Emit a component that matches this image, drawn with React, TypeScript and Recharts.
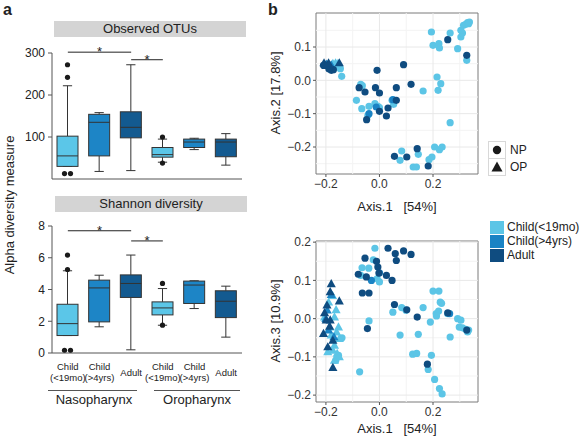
import React from "react";
import {
  Bar,
  ComposedChart,
  ReferenceArea,
  ReferenceLine,
  Scatter,
  ScatterChart,
  XAxis,
  YAxis,
} from "recharts";

const FONT = '"Liberation Sans", Arial, sans-serif';
const LIGHT = "#5bc6e8";
const MID = "#1d85c6";
const DARK = "#135a90";
const PT_LIGHT = "#5cc5e6";
const PT_MID = "#1a83c4";
const PT_DARK = "#0f4c80";
const INK = "#333";

// alpha diversity groups
const GROUP_KEYS = ["npChild19", "npChild4", "npAdult", "opChild19", "opChild4", "opAdult"];
const GROUP_FILLS = [LIGHT, MID, DARK, LIGHT, MID, DARK];
const TICK_MAIN = ["Child", "Child", "Adult", "Child", "Child", "Adult"];
const TICK_SUB = ["(<19mo)", "(>4yrs)", "", "(<19mo)", "(>4yrs)", ""];

const OTU_LOW = [30, 18, 20, 40, 70, 33];
const OTU_Q1 = [30, 55, 98, 52, 75, 53];
const OTU_MED = [55, 135, 123, 58, 88, 88];
const OTU_Q3 = [102, 154, 160, 75, 95, 95];
const OTU_HIGH = [222, 158, 272, 95, 97, 108];
const OTU_OUT = [[272, 242, 13, 13], [], [], [100, 38], [], []];

const SH_LOW = [1.1, 1.65, 0.2, 1.75, 2.8, 1.0];
const SH_Q1 = [1.1, 1.96, 3.5, 2.4, 3.12, 2.23];
const SH_MED = [1.85, 4.1, 4.38, 2.84, 4.28, 3.26];
const SH_Q3 = [3.07, 4.59, 4.92, 3.22, 4.53, 3.92];
const SH_HIGH = [5.18, 4.9, 6.17, 4.06, 4.55, 4.21];
const SH_OUT = [[6.17, 5.26, 0.17, 0.17], [], [], [4.38, 1.75], [], []];

// significance brackets: [from, to, value]
const OTU_SIG: [string, string, number][] = [
  ["npChild19", "npAdult", 302],
  ["npAdult", "opChild19", 284],
];
const SH_SIG: [string, string, number][] = [
  ["npChild19", "npAdult", 7.7],
  ["npAdult", "opChild19", 7.06],
];

// PCoA axis 1 vs axis 2
const P2_NP_LIGHT: [number, number][] = [
  [-0.156, 0.04], [-0.146, 0.035], [-0.165, 0.04], [-0.141, 0.012],
  [-0.086, -0.06], [-0.07, -0.012], [-0.064, -0.016], [-0.066, -0.085], [-0.039, -0.078],
  [-0.043, -0.105], [-0.017, -0.07], [-0.006, -0.078], [0.0, -0.082], [0.053, -0.072],
  [0.047, -0.06], [0.163, -0.032], [0.215, 0.01], [0.229, -0.01], [0.219, -0.03],
  [0.264, -0.127], [0.194, 0.145], [0.2, 0.105], [0.222, 0.11], [0.224, 0.097],
  [0.264, 0.142], [0.292, 0.095], [0.304, 0.13], [0.31, 0.142], [0.304, 0.15],
  [0.314, 0.165], [0.322, 0.168], [0.329, 0.173], [0.333, 0.17], [0.336, 0.175],
  [0.326, 0.06], [0.083, -0.212], [0.077, -0.24], [0.145, -0.222], [0.126, -0.26],
  [0.138, -0.26], [0.185, -0.238], [0.196, -0.23], [0.206, -0.2], [0.224, -0.208],
  [0.234, -0.2],
];
const P2_NP_MID: [number, number][] = [[-0.039, -0.1], [0.05, -0.058], [-0.012, -0.08]];
const P2_NP_DARK: [number, number][] = [
  [-0.209, 0.045], [-0.18, 0.03], [-0.172, 0.032], [-0.189, 0.035], [0.09, 0.047],
  [-0.009, 0.03], [-0.076, -0.022], [-0.054, -0.035], [-0.015, -0.022], [0.0, -0.038],
  [0.0, -0.093], [-0.048, -0.118], [0.032, -0.083], [0.026, -0.107], [0.063, -0.022],
  [0.063, -0.06], [0.118, -0.012], [0.056, -0.228], [0.102, -0.23], [0.141, -0.205],
  [0.182, -0.257], [0.255, 0.122], [0.326, 0.075],
];
const P2_OP_LIGHT: [number, number][] = [[-0.174, 0.05], [-0.164, 0.052], [-0.155, 0.05], [-0.16, 0.045]];
const P2_OP_MID: [number, number][] = [[-0.198, 0.048], [-0.18, 0.046]];
const P2_OP_DARK: [number, number][] = [[-0.207, 0.052], [-0.19, 0.052], [-0.15, 0.052], [-0.2, 0.044]];

// PCoA axis 1 vs axis 3
const P3_NP_LIGHT: [number, number][] = [
  [-0.14, -0.05], [-0.153, -0.096], [-0.163, -0.109], [-0.017, 0.184], [-0.023, 0.154],
  [-0.065, 0.133], [-0.04, 0.132], [-0.07, 0.113], [-0.009, 0.104], [0.0, 0.096],
  [-0.074, -0.139], [-0.039, -0.006], [0.077, -0.043], [0.083, 0.029], [0.099, 0.022],
  [0.05, 0.017], [0.145, -0.041], [0.163, 0.029], [0.124, -0.093], [0.139, -0.091],
  [0.194, -0.096], [0.19, -0.009], [0.182, -0.133], [0.212, 0.013], [0.2, 0.072],
  [0.222, 0.072], [0.227, 0.043], [0.232, 0.04], [0.221, 0.02], [0.213, 0.007],
  [0.255, 0.013], [0.264, -0.048], [0.292, 0.0], [0.304, -0.004], [0.298, -0.022],
  [0.31, -0.024], [0.322, -0.028], [0.329, -0.035], [0.333, -0.03], [0.206, -0.159],
  [0.224, -0.183], [0.234, -0.197],
];
const P3_NP_MID: [number, number][] = [[0.0, 0.12], [-0.03, 0.1], [0.262, 0.013]];
const P3_NP_DARK: [number, number][] = [
  [0.032, 0.184], [0.09, 0.177], [0.118, 0.168], [0.059, 0.17], [0.063, 0.152],
  [-0.054, 0.158], [-0.011, 0.15], [-0.006, 0.135], [-0.002, 0.119], [-0.079, 0.116],
  [-0.049, 0.109], [-0.064, 0.067], [-0.039, 0.067], [0.026, 0.113], [0.047, 0.1],
  [-0.045, -0.026], [0.056, 0.037], [0.102, 0.023], [0.141, 0.004], [0.179, -0.119],
  [0.255, 0.015], [0.326, -0.03],
];
const P3_OP_LIGHT: [number, number][] = [
  [-0.19, 0.043], [-0.162, 0.023], [-0.205, 0.004], [-0.168, 0.004], [-0.153, -0.022],
  [-0.186, -0.022], [-0.18, -0.043], [-0.15, -0.052], [-0.168, -0.07], [-0.158, -0.091],
  [-0.15, -0.1], [-0.168, -0.109], [-0.193, -0.087], [-0.174, -0.083], [-0.175, 0.06],
  [-0.16, -0.035],
];
const P3_OP_MID: [number, number][] = [[-0.18, 0.063], [-0.195, 0.022], [-0.19, -0.03], [-0.17, -0.048], [-0.2, 0.0]];
const P3_OP_DARK: [number, number][] = [
  [-0.18, 0.091], [-0.184, 0.07], [-0.196, 0.035], [-0.205, 0.015], [-0.15, 0.046],
  [-0.199, -0.004], [-0.209, -0.039], [-0.184, -0.004], [-0.193, -0.074], [-0.174, -0.057],
  [-0.174, -0.128], [-0.186, -0.02],
];

const X_DOMAIN: [number, number] = [-0.237, 0.368];
const X_TICKS = [-0.2, 0, 0.2];
const X_MINOR = [-0.1, 0.1, 0.3];
const Y2_DOMAIN: [number, number] = [-0.281, 0.202];
const Y2_TICKS = [-0.2, -0.1, 0, 0.1];
const Y2_MINOR = [-0.25, -0.15, -0.05, 0.05, 0.15];
const Y3_DOMAIN: [number, number] = [-0.218, 0.203];
const Y3_TICKS = [-0.2, -0.1, 0, 0.1, 0.2];
const Y3_MINOR = [-0.15, -0.05, 0.05, 0.15];

function boxRows(low: number[], q1: number[], med: number[], q3: number[], high: number[], out: number[][]) {
  return GROUP_KEYS.map((key, i) => ({
    key,
    box: [q1[i], q3[i]],
    low: low[i],
    q1: q1[i],
    med: med[i],
    q3: q3[i],
    high: high[i],
    out: out[i],
    fill: GROUP_FILLS[i],
  }));
}

const OTU_ROWS = boxRows(OTU_LOW, OTU_Q1, OTU_MED, OTU_Q3, OTU_HIGH, OTU_OUT);
const SH_ROWS = boxRows(SH_LOW, SH_Q1, SH_MED, SH_Q3, SH_HIGH, SH_OUT);

const pts = (a: [number, number][]) => a.map(([x, y]) => ({ x, y }));

// box drawn from the bar's own pixel geometry (bar spans q1..q3)
function BoxShape(props: any) {
  const { x, y, width, height, payload } = props;
  const top = Math.min(y, y + height);
  const h = Math.abs(height);
  const { q1, q3, med, low, high, out, fill } = payload;
  const k = h / (q3 - q1);
  const py = (v: number) => top + (q3 - v) * k;
  const cx = x + width / 2;
  const cap = width * 0.22;
  const seen: Record<string, number> = {};
  return (
    <g>
      <line x1={cx} x2={cx} y1={py(high)} y2={py(q3)} stroke={INK} />
      <line x1={cx} x2={cx} y1={py(q1)} y2={py(low)} stroke={INK} />
      <line x1={cx - cap} x2={cx + cap} y1={py(high)} y2={py(high)} stroke={INK} />
      <line x1={cx - cap} x2={cx + cap} y1={py(low)} y2={py(low)} stroke={INK} />
      <rect x={x} y={top} width={width} height={h} fill={fill} stroke={INK} />
      <line x1={x} x2={x + width} y1={py(med)} y2={py(med)} stroke={INK} />
      {out.map((v: number, i: number) => {
        const n = out.filter((o: number) => o === v).length;
        const j = (seen[v] = (seen[v] ?? -1) + 1);
        const dx = n > 1 ? (j - (n - 1) / 2) * 6 : 0;
        return <circle key={i} cx={cx + dx} cy={py(v)} r={2.6} fill="#1a1a1a" />;
      })}
    </g>
  );
}

function GroupTick(props: any) {
  const { x, y, payload } = props;
  const i = GROUP_KEYS.indexOf(payload.value);
  const sub = TICK_SUB[i];
  return (
    <g fontFamily={FONT} fontSize={9.5} fill="#222" textAnchor="middle">
      {sub ? (
        <>
          <text x={x} y={y + 17}>{TICK_MAIN[i]}</text>
          <text x={x} y={y + 28}>{sub}</text>
        </>
      ) : (
        <text x={x} y={y + 23}>{TICK_MAIN[i]}</text>
      )}
    </g>
  );
}

const star = (props: any) => {
  const vb = props.viewBox;
  return (
    <text x={vb.x + vb.width / 2} y={vb.y + 4} textAnchor="middle" fontSize={13} fontFamily={FONT} fill="#222">
      *
    </text>
  );
};

function BoxPanel({ rows, sig, domain, ticks, top, height, marginTop, xHeight, tickEl }: any) {
  return (
    <div style={{ position: "absolute", left: 0, top }}>
      <ComposedChart width={250} height={height} data={rows} margin={{ top: marginTop, right: 8, bottom: 0, left: 0 }}>
        <XAxis
          dataKey="key"
          height={xHeight}
          tick={tickEl}
          tickLine={false}
          tickSize={0}
          tickMargin={0}
          interval={0}
          axisLine={{ stroke: "#555" }}
        />
        <YAxis
          width={52}
          domain={domain}
          ticks={ticks}
          allowDataOverflow
          tickSize={4}
          tickMargin={3}
          tick={{ fontSize: 12, fill: "#222", fontFamily: FONT }}
          axisLine={{ stroke: "#555" }}
          tickLine={{ stroke: "#555" }}
        />
        <Bar dataKey="box" barSize={21} shape={BoxShape} isAnimationActive={false} />
        {sig.map(([a, b, v]: [string, string, number], i: number) => (
          <ReferenceLine
            key={i}
            segment={[{ x: a, y: v }, { x: b, y: v }]}
            stroke="#222"
            strokeWidth={1}
            ifOverflow="visible"
            label={star}
          />
        ))}
      </ComposedChart>
    </div>
  );
}

const dotShape = (color: string) => (p: any) => <circle cx={p.cx} cy={p.cy} r={3.6} fill={color} />;
const triShape = (color: string) => (p: any) => {
  const s = 4.8;
  return (
    <path
      d={`M${p.cx},${p.cy - s}L${p.cx + s * 0.95},${p.cy + s * 0.7}L${p.cx - s * 0.95},${p.cy + s * 0.7}Z`}
      fill={color}
    />
  );
};

const fmt = (v: number) => v.toFixed(1).replace("-", "\u2212");

function PcoaPanel({ top, yDomain, yTicks, yMinor, series }: any) {
  return (
    <div style={{ position: "absolute", left: 280, top }}>
      <ScatterChart width={200} height={196} margin={{ top: 13, right: 2, bottom: 0, left: 0 }}>
        <XAxis
          type="number"
          dataKey="x"
          domain={X_DOMAIN}
          ticks={X_TICKS}
          allowDataOverflow
          height={22}
          tickSize={3}
          tickMargin={2}
          tickFormatter={fmt}
          axisLine={false}
          tickLine={{ stroke: "#555" }}
          tick={{ fontSize: 12, fill: "#333", fontFamily: FONT }}
        />
        <YAxis
          type="number"
          dataKey="y"
          domain={yDomain}
          ticks={yTicks}
          allowDataOverflow
          width={36}
          tickSize={3}
          tickMargin={2}
          tickFormatter={fmt}
          axisLine={false}
          tickLine={{ stroke: "#555" }}
          tick={{ fontSize: 12, fill: "#333", fontFamily: FONT }}
        />
        {yMinor.map((v: number) => (
          <ReferenceLine key={"ym" + v} y={v} stroke="#f3f3f3" />
        ))}
        {X_MINOR.map((v) => (
          <ReferenceLine key={"xm" + v} x={v} stroke="#f3f3f3" />
        ))}
        {yTicks.map((v: number) => (
          <ReferenceLine key={"y" + v} y={v} stroke="#e8e8e8" />
        ))}
        {X_TICKS.map((v) => (
          <ReferenceLine key={"x" + v} x={v} stroke="#e8e8e8" />
        ))}
        {series.map((s: any, i: number) => (
          <Scatter
            key={i}
            data={pts(s.data)}
            shape={s.tri ? triShape(s.color) : dotShape(s.color)}
            isAnimationActive={false}
          />
        ))}
        <ReferenceArea
          x1={X_DOMAIN[0]}
          x2={X_DOMAIN[1]}
          y1={yDomain[0]}
          y2={yDomain[1]}
          fill="none"
          fillOpacity={0}
          stroke="#7a7a7a"
          ifOverflow="visible"
        />
      </ScatterChart>
    </div>
  );
}

const abs = (left: number, top: number, extra: React.CSSProperties = {}): React.CSSProperties => ({
  position: "absolute",
  left,
  top,
  fontFamily: FONT,
  whiteSpace: "pre",
  color: "#222",
  ...extra,
});

const vlabel = (cx: number, cy: number, size: number): React.CSSProperties => ({
  position: "absolute",
  left: cx,
  top: cy,
  transform: "translate(-50%, -50%) rotate(-90deg)",
  fontFamily: FONT,
  fontSize: size,
  whiteSpace: "pre",
  color: "#222",
});

export default function App() {
  const series2 = [
    { data: P2_NP_LIGHT, color: PT_LIGHT },
    { data: P2_OP_LIGHT, color: PT_LIGHT, tri: true },
    { data: P2_NP_MID, color: PT_MID },
    { data: P2_OP_MID, color: PT_MID, tri: true },
    { data: P2_NP_DARK, color: PT_DARK },
    { data: P2_OP_DARK, color: PT_DARK, tri: true },
  ];
  const series3 = [
    { data: P3_NP_LIGHT, color: PT_LIGHT },
    { data: P3_OP_LIGHT, color: PT_LIGHT, tri: true },
    { data: P3_NP_MID, color: PT_MID },
    { data: P3_OP_MID, color: PT_MID, tri: true },
    { data: P3_NP_DARK, color: PT_DARK },
    { data: P3_OP_DARK, color: PT_DARK, tri: true },
  ];
  return (
    <div style={{ position: "absolute", left: 0, top: 0, width: 580, height: 442, background: "#fff", overflow: "hidden" }}>
      <div style={abs(3, 1, { fontSize: 16, fontWeight: "bold" })}>a</div>
      <div style={abs(268, 1, { fontSize: 16, fontWeight: "bold" })}>b</div>

      <div style={abs(54, 21, { width: 192, height: 16, background: "#d4d4d4", fontSize: 13, lineHeight: "16px", textAlign: "center" })}>
        Observed OTUs
      </div>
      <div style={abs(55, 196, { width: 192, height: 16, background: "#d4d4d4", fontSize: 13, lineHeight: "16px", textAlign: "center" })}>
        Shannon diversity
      </div>
      <div style={vlabel(9, 205, 13)}>Alpha diversity measure</div>

      <BoxPanel rows={OTU_ROWS} sig={OTU_SIG} domain={[0, 300]} ticks={[0, 100, 200, 300]} top={0} height={180} marginTop={53} xHeight={1} tickEl={false} />
      <BoxPanel rows={SH_ROWS} sig={SH_SIG} domain={[0, 8]} ticks={[0, 2, 4, 6, 8]} top={200} height={193} marginTop={26} xHeight={40} tickEl={<GroupTick />} />

      <div style={abs(48, 390, { width: 89, height: 0, borderTop: "1px solid #555" })} />
      <div style={abs(154, 390, { width: 86, height: 0, borderTop: "1px solid #555" })} />
      <div style={abs(48, 392, { width: 92, fontSize: 13, textAlign: "center" })}>Nasopharynx</div>
      <div style={abs(150, 392, { width: 94, fontSize: 13, textAlign: "center" })}>Oropharynx</div>

      <PcoaPanel top={0} yDomain={Y2_DOMAIN} yTicks={Y2_TICKS} yMinor={Y2_MINOR} series={series2} />
      <PcoaPanel top={228} yDomain={Y3_DOMAIN} yTicks={Y3_TICKS} yMinor={Y3_MINOR} series={series3} />

      <div style={vlabel(275, 93, 13)}>Axis.2 [17.8%]</div>
      <div style={vlabel(275, 321, 13)}>Axis.3 [10.9%]</div>
      <div style={abs(317, 199, { width: 160, fontSize: 13, textAlign: "center" })}>Axis.1   [54%]</div>
      <div style={abs(317, 421, { width: 160, fontSize: 13, textAlign: "center" })}>Axis.1   [54%]</div>

      <svg style={{ position: "absolute", left: 488, top: 141 }} width={18} height={35}>
        <rect x={0.5} y={0.5} width={17} height={17} fill="#fff" stroke="#d8d8d8" />
        <rect x={0.5} y={17.5} width={17} height={17} fill="#fff" stroke="#d8d8d8" />
        <circle cx={9} cy={9} r={4.2} fill="#1a1a1a" />
        <path d="M9,20.5L14.5,30.5L3.5,30.5Z" fill="#1a1a1a" />
      </svg>
      <div style={abs(510, 142, { fontSize: 12, lineHeight: "17px" })}>NP</div>
      <div style={abs(510, 159, { fontSize: 12, lineHeight: "17px" })}>OP</div>

      <div style={abs(490, 221, { width: 14, height: 13, background: PT_LIGHT })} />
      <div style={abs(490, 235, { width: 14, height: 13, background: PT_MID })} />
      <div style={abs(490, 249, { width: 14, height: 13, background: PT_DARK })} />
      <div style={abs(507, 220, { fontSize: 12, lineHeight: "14px" })}>Child(&lt;19mo)</div>
      <div style={abs(507, 234, { fontSize: 12, lineHeight: "14px" })}>Child(&gt;4yrs)</div>
      <div style={abs(507, 248, { fontSize: 12, lineHeight: "14px" })}>Adult</div>
    </div>
  );
}
